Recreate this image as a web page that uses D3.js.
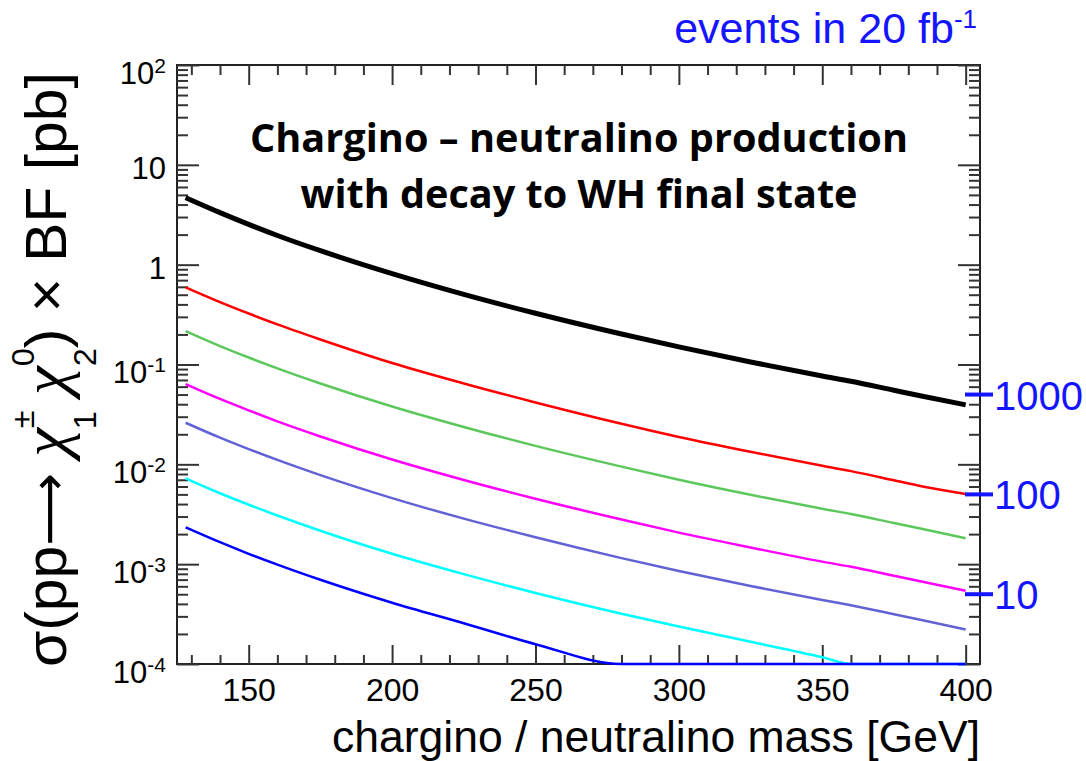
<!DOCTYPE html>
<html>
<head>
<meta charset="utf-8">
<script src="https://cdn.jsdelivr.net/npm/d3@7"></script>
<style>
  body { margin: 0; background: #fff; }
  svg { display: block; font-family: "Liberation Sans", Arial, sans-serif; }
</style>
</head>
<body>
<svg id="plot" width="1086" height="761"></svg>
<script>
// chargino / neutralino mass [GeV]
const masses = [128, 140, 150, 160, 175, 200, 225, 250, 280, 300, 325, 350, 360, 375, 385, 400];

// sigma x BF [pb] (values at the frame floor are drawn at 1e-4)
const sigmaTotal = [4.69, 3.32, 2.53, 1.96, 1.38, 0.813, 0.504, 0.326, 0.202, 0.150, 0.106, 0.0767, 0.0679, 0.0552, 0.0481, 0.0394];
const sigmaRed = [0.593, 0.422, 0.324, 0.252, 0.178, 0.1035, 0.0646, 0.0417, 0.0255, 0.0188, 0.01334, 0.00966, 0.00855, 0.00692, 0.0060, 0.00505];
const sigmaGreen = [0.216, 0.153, 0.1175, 0.0916, 0.0646, 0.038, 0.0237, 0.0153, 0.00948, 0.0070, 0.00495, 0.00359, 0.00318, 0.00258, 0.00225, 0.00182];
const sigmaMagenta = [0.0637, 0.0452, 0.0347, 0.0269, 0.019, 0.01117, 0.00697, 0.00452, 0.0028, 0.00207, 0.00147, 0.00106, 0.000942, 0.000766, 0.000667, 0.000542];
const sigmaSlate = [0.0261, 0.0185, 0.0142, 0.01107, 0.0078, 0.00459, 0.00286, 0.00186, 0.00115, 0.000853, 0.000604, 0.000438, 0.000387, 0.000315, 0.000274, 0.000222];
const sigmaCyan = [0.00724, 0.00513, 0.00394, 0.00307, 0.00216, 0.00127, 0.000794, 0.000515, 0.000319, 0.000237, 0.000167, 0.000117, 0.0001, 0.0001, 0.0001, 0.0001];
const sigmaBlue = [0.00234, 0.00166, 0.00127, 0.00099, 0.000698, 0.000411, 0.000256, 0.000158, 0.0001, 0.0001, 0.0001, 0.0001, 0.0001, 0.0001, 0.0001, 0.0001];

const series = [
    { name: "total", values: sigmaTotal, color: "#000000", width: 5 },
    { name: "red", values: sigmaRed, color: "#ff0000", width: 2.5 },
    { name: "green", values: sigmaGreen, color: "#5cc85c", width: 2.5 },
    { name: "magenta", values: sigmaMagenta, color: "#ff00ff", width: 2.5 },
    { name: "slate", values: sigmaSlate, color: "#6262d6", width: 2.5 },
    { name: "cyan", values: sigmaCyan, color: "#00ffff", width: 2.5 },
    { name: "blue", values: sigmaBlue, color: "#0000ff", width: 2.5 }
];

// event counts marked on the right, for 20 fb^-1 = 20000 pb^-1
const eventCounts = [1000, 100, 10];
const lumiPb = 20000;

const xMajor = [150, 200, 250, 300, 350, 400];
const xMinor = d3.range(130, 405, 10).filter(v => v % 50 !== 0);
const yDecades = [1e-4, 1e-3, 1e-2, 1e-1, 1, 10, 100];
const yMinor = [];
[-4, -3, -2, -1, 0, 1].forEach(e => d3.range(2, 10).forEach(k => yMinor.push(k * Math.pow(10, e))));

const svg = d3.select("#plot");
const frame = { left: 177, right: 980, top: 65, bottom: 664 };

const x = d3.scaleLinear().domain([125, 405]).range([frame.left, frame.right]);
const y = d3.scaleLog().domain([1e-4, 100]).range([frame.bottom, frame.top]);

const axisColor = "#333";

function styleAxis(g) {
    g.select(".domain").remove();
    g.attr("color", axisColor)
        .attr("font-family", "'Liberation Sans', Arial, sans-serif");
    g.selectAll(".tick line").attr("stroke-width", 2);
}

// frame
svg.append("rect")
    .attr("x", frame.left).attr("y", frame.top)
    .attr("width", frame.right - frame.left)
    .attr("height", frame.bottom - frame.top)
    .attr("fill", "none")
    .attr("stroke", "#222")
    .attr("stroke-width", 2);

// bottom axis
svg.append("g")
    .attr("transform", `translate(0,${frame.bottom})`)
    .call(d3.axisBottom(x).tickValues(xMajor).tickSize(-19).tickPadding(14))
    .call(styleAxis)
    .call(g => g.selectAll(".tick text").attr("font-size", 32).attr("fill", "#000"));
svg.append("g")
    .attr("transform", `translate(0,${frame.bottom})`)
    .call(d3.axisBottom(x).tickValues(xMinor).tickSize(-9).tickFormat(""))
    .call(styleAxis);

// top axis
svg.append("g")
    .attr("transform", `translate(0,${frame.top})`)
    .call(d3.axisTop(x).tickValues(xMajor).tickSize(-20).tickFormat(""))
    .call(styleAxis);
svg.append("g")
    .attr("transform", `translate(0,${frame.top})`)
    .call(d3.axisTop(x).tickValues(xMinor).tickSize(-10).tickFormat(""))
    .call(styleAxis);

// left axis
svg.append("g")
    .attr("transform", `translate(${frame.left},0)`)
    .call(d3.axisLeft(y).tickValues(yDecades).tickSize(-22).tickPadding(11))
    .call(styleAxis)
    .call(g => g.selectAll(".tick text").each(function (d) {
        const e = Math.round(Math.log10(d));
        const t = d3.select(this).text(null)
            .attr("dy", null)
            .attr("font-size", 31)
            .attr("fill", "#000")
            .attr("y", (e === 0 || e === 1) ? 14 : 18);
        t.append("tspan").text(e === 0 ? "1" : "10");
        if (e !== 0 && e !== 1) {
            t.append("tspan").attr("font-size", 21).attr("dy", -11).text(String(e));
        }
    }));
svg.append("g")
    .attr("transform", `translate(${frame.left},0)`)
    .call(d3.axisLeft(y).tickValues(yMinor).tickSize(-11).tickFormat(""))
    .call(styleAxis);

// right axis
svg.append("g")
    .attr("transform", `translate(${frame.right},0)`)
    .call(d3.axisRight(y).tickValues(yDecades).tickSize(-22).tickFormat(""))
    .call(styleAxis);
svg.append("g")
    .attr("transform", `translate(${frame.right},0)`)
    .call(d3.axisRight(y).tickValues(yMinor).tickSize(-11).tickFormat(""))
    .call(styleAxis);

// curves
const line = d3.line()
    .x(d => x(d.m))
    .y(d => y(d.v))
    .curve(d3.curveMonotoneX);

svg.append("g").selectAll("path")
    .data(series)
    .join("path")
    .attr("fill", "none")
    .attr("stroke", d => d.color)
    .attr("stroke-width", d => d.width)
    .attr("stroke-linejoin", "round")
    .attr("d", d => line(d.values.map((v, i) => ({ m: masses[i], v: v }))));

// event-count markers on the right
const blue = "#1414ff";
const events = svg.append("g");
events.selectAll("line")
    .data(eventCounts)
    .join("line")
    .attr("x1", frame.right - 15).attr("x2", frame.right + 13)
    .attr("y1", d => y(d / lumiPb)).attr("y2", d => y(d / lumiPb))
    .attr("stroke", blue)
    .attr("stroke-width", 4);
events.selectAll("text")
    .data(eventCounts)
    .join("text")
    .attr("x", frame.right + 14)
    .attr("y", d => y(d / lumiPb) + 15)
    .attr("font-size", 40)
    .attr("fill", blue)
    .text(d => d);

const evTitle = svg.append("text")
    .attr("x", 977).attr("y", 43)
    .attr("text-anchor", "end")
    .attr("font-size", 43)
    .attr("fill", blue);
evTitle.append("tspan").text("events in 20 fb");
evTitle.append("tspan").attr("font-size", 26).attr("dy", -15).text("-1");

// x axis title
svg.append("text")
    .attr("x", frame.right).attr("y", 752)
    .attr("text-anchor", "end")
    .attr("font-size", 44.5)
    .attr("fill", "#000")
    .text("chargino / neutralino mass [GeV]");

// y axis title, built flat then rotated and stretched to fit
const fs = 58, sfs = 32;
const chiFont = "'Liberation Serif', 'DejaVu Serif', serif";
const yTitleG = svg.append("g");
const yTitle = yTitleG.append("text").attr("font-size", fs).attr("fill", "#000");
yTitle.append("tspan").text("σ(pp");
yTitle.append("tspan").attr("font-family", "'DejaVu Sans', sans-serif").attr("font-size", 50).text("⟶");
yTitle.append("tspan").text(" ");
yTitle.append("tspan").attr("font-family", chiFont).attr("font-style", "italic").attr("font-size", 64).text("χ");
yTitle.append("tspan").attr("font-size", sfs).attr("dy", -32).text("±");
yTitle.append("tspan").attr("font-size", sfs).attr("dx", -0.584 * sfs).attr("dy", 62).text("1");
yTitle.append("tspan").attr("dy", -30).text(" ");
yTitle.append("tspan").attr("font-family", chiFont).attr("font-style", "italic").attr("font-size", 64).text("χ");
yTitle.append("tspan").attr("font-size", sfs).attr("dy", -32).text("0");
yTitle.append("tspan").attr("font-size", sfs).attr("dx", -0.556 * sfs).attr("dy", 62).text("2");
yTitle.append("tspan").attr("dy", -30).text(") × BF [pb]");
const bb = yTitle.node().getBBox();
const yLen = 667 - 72;
yTitleG.attr("transform",
    `translate(66,667) rotate(-90) scale(${yLen / bb.width},1) translate(${-bb.x},0)`);

// in-plot title
const titleLines = ["Chargino – neutralino production", "with decay to WH final state"];
const titleLen = [658, 557];
const titleY = [152, 208];
svg.append("g").selectAll("text")
    .data(titleLines)
    .join("text")
    .attr("x", 579)
    .attr("y", (d, i) => titleY[i])
    .attr("text-anchor", "middle")
    .attr("font-family", "'Open Sans', sans-serif")
    .attr("font-weight", 700)
    .attr("font-size", 39)
    .attr("textLength", (d, i) => titleLen[i])
    .attr("lengthAdjust", "spacingAndGlyphs")
    .attr("fill", "#000")
    .text(d => d);
</script>
</body>
</html>
